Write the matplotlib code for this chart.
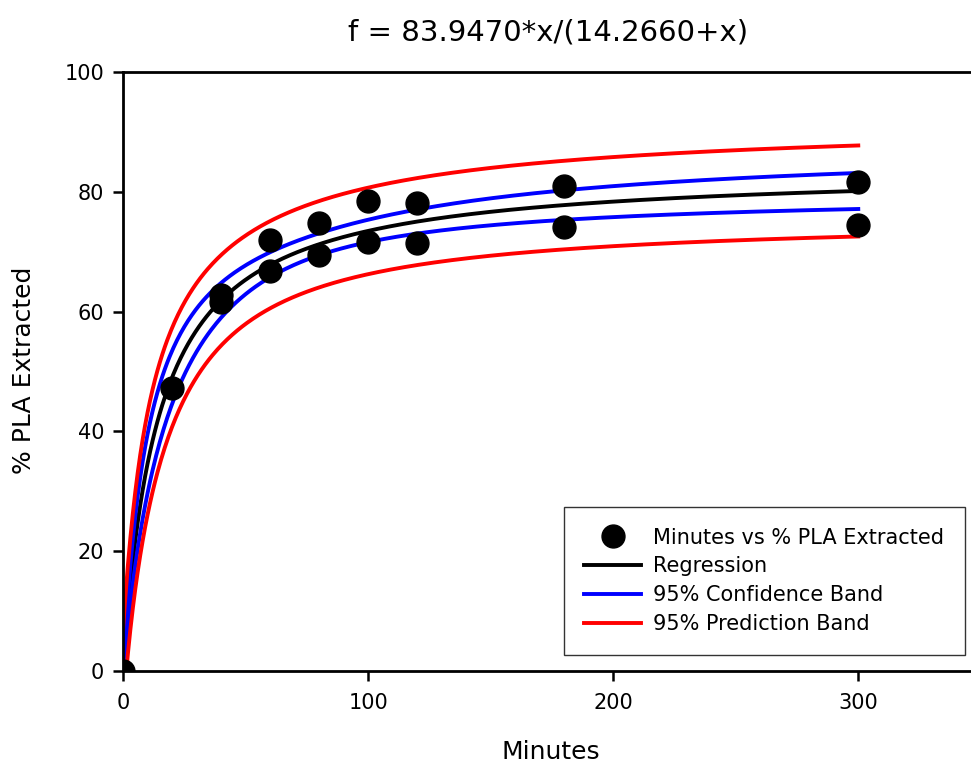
import numpy as np
import matplotlib
matplotlib.use("Agg")
import matplotlib.pyplot as plt

plt.rcParams["font.family"] = "DejaVu Sans"

# data
minutes = [0, 20, 40, 40, 60, 60, 80, 80, 100, 100, 120, 120, 180, 180, 300, 300]
pla = [0.0, 47.2, 62.8, 61.6, 72.0, 66.7, 74.8, 69.4, 78.5, 71.7, 78.2, 71.4,
       81.0, 74.2, 81.7, 74.5]

# fitted model from the title: f = a*x/(b+x)
a_fit = 83.9470
b_fit = 14.2660
t_95 = 2.145  # t(0.975, df=14)

x = np.array(minutes, dtype=float)
y = np.array(pla)

def model(xx):
    return a_fit * xx / (b_fit + xx)

def jac(xx):
    return np.column_stack([xx / (b_fit + xx), -a_fit * xx / (b_fit + xx) ** 2])

# parameter covariance -> confidence / prediction bands (delta method)
resid = y - model(x)
dof = len(x) - 2
s2 = np.sum(resid ** 2) / dof
J = jac(x)
cov = s2 * np.linalg.inv(J.T @ J)

xs = np.linspace(0, 300, 600)
fs = model(xs)
Js = jac(xs)
var_mean = np.einsum("ij,jk,ik->i", Js, cov, Js)
conf = t_95 * np.sqrt(var_mean)
pred = t_95 * np.sqrt(var_mean + s2)

fig = plt.figure(figsize=(9.71, 7.65), dpi=100)
ax = fig.add_axes([0.1267, 0.1229, 0.8733, 0.7830])

ax.plot(x, y, "o", color="black", markersize=16.5, label="Minutes vs % PLA Extracted", zorder=5)
ax.plot(xs, fs, color="black", lw=2.8, label="Regression")
ax.plot(xs, fs + conf, color="blue", lw=2.8, label="95% Confidence Band")
ax.plot(xs, fs - conf, color="blue", lw=2.8)
ax.plot(xs, fs + pred, color="red", lw=2.8, label="95% Prediction Band")
ax.plot(xs, fs - pred, color="red", lw=2.8)

ax.set_xlim(0, 346)
ax.set_ylim(0, 100)
ax.set_xticks([0, 100, 200, 300])
ax.set_yticks([0, 20, 40, 60, 80, 100])
ax.spines["right"].set_visible(False)
for sp in ["left", "top", "bottom"]:
    ax.spines[sp].set_linewidth(2.0)
ax.tick_params(direction="out", length=7.5, width=1.8, labelsize=15)
ax.tick_params(axis="y", pad=6)
ax.tick_params(axis="x", pad=8)

fig.text(551 / 971, 1 - 752 / 765, "Minutes", fontsize=18, ha="center", va="center")
fig.text(24 / 971, 1 - 370 / 765, "% PLA Extracted", fontsize=18, rotation=90,
         ha="center", va="center")
fig.text(548 / 971, 1 - 33 / 765, "f = 83.9470*x/(14.2660+x)", fontsize=21,
         ha="center", va="center")

leg = ax.legend(loc="lower right", bbox_to_anchor=(0.993, 0.027), borderaxespad=0,
                fontsize=15, frameon=True, fancybox=False, edgecolor="black",
                handlelength=2.7, labelspacing=0.42, borderpad=1.0, handletextpad=0.6)
leg.get_frame().set_linewidth(1.0)

fig.savefig("out.png", dpi=100)
